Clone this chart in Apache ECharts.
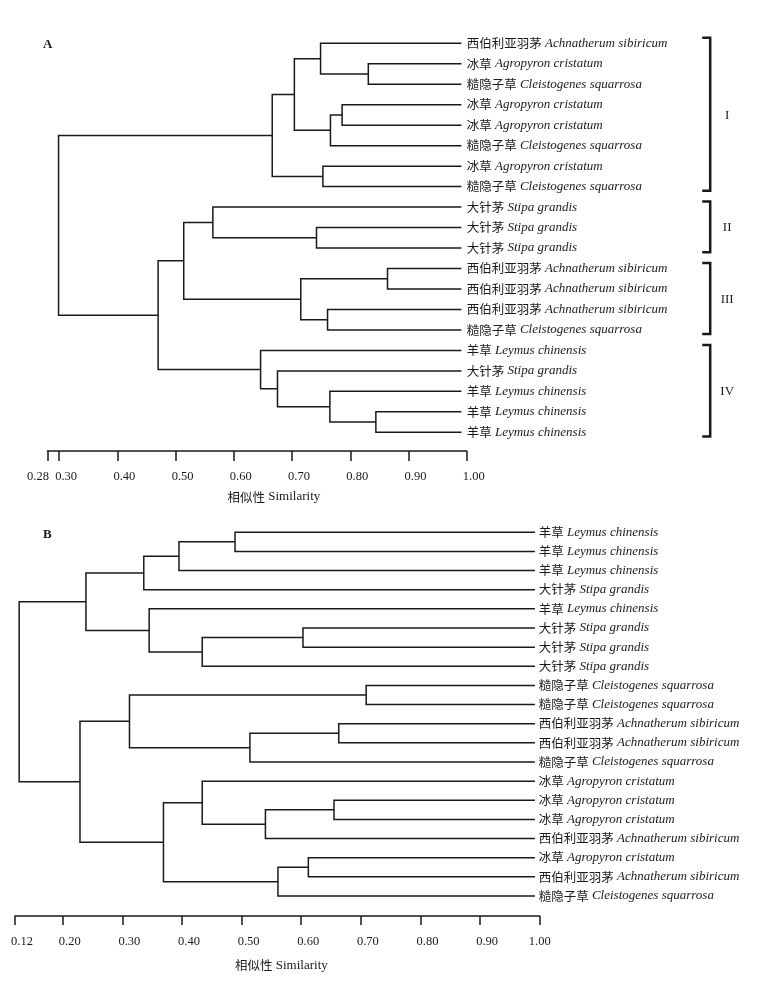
<!DOCTYPE html>
<html><head><meta charset="utf-8">
<script src="https://cdn.jsdelivr.net/npm/echarts@6/dist/echarts.min.js"></script>
<style>html,body{margin:0;padding:0;background:#fff}#chart{width:757px;height:1000px}</style>
</head><body><div id="chart"></div>
<script>
// ---------- Panel A data ----------
const leafCnA = ['西伯利亚羽茅','冰草','糙隐子草','冰草','冰草','糙隐子草','冰草','糙隐子草',
  '大针茅','大针茅','大针茅','西伯利亚羽茅','西伯利亚羽茅','西伯利亚羽茅','糙隐子草',
  '羊草','大针茅','羊草','羊草','羊草'];
const leafLaA = ['Achnatherum sibiricum','Agropyron cristatum','Cleistogenes squarrosa','Agropyron cristatum',
  'Agropyron cristatum','Cleistogenes squarrosa','Agropyron cristatum','Cleistogenes squarrosa',
  'Stipa grandis','Stipa grandis','Stipa grandis','Achnatherum sibiricum','Achnatherum sibiricum',
  'Achnatherum sibiricum','Cleistogenes squarrosa','Leymus chinensis','Stipa grandis',
  'Leymus chinensis','Leymus chinensis','Leymus chinensis'];
// merges: [childA, childB, similarity]; leaves are 0..19, merged nodes numbered from 20
const mergesA = [
  [1,2,0.831],[0,20,0.749],[3,4,0.786],[22,5,0.766],[21,23,0.704],[6,7,0.753],[24,25,0.666],
  [9,10,0.742],[8,27,0.564],[11,12,0.864],[13,14,0.761],[29,30,0.715],[28,31,0.514],
  [18,19,0.844],[17,33,0.765],[16,34,0.675],[15,35,0.646],[32,36,0.470],[26,37,0.299]
];
const leafSimA = 0.991;
const ticksA = [0.28,0.30,0.40,0.50,0.60,0.70,0.80,0.90,1.00];
const groupsA = [[0,7],[8,10],[11,14],[15,19]];
const groupLabelsA = ['I','II','III','IV'];

// ---------- Panel B data ----------
const leafCnB = ['羊草','羊草','羊草','大针茅','羊草','大针茅','大针茅','大针茅','糙隐子草','糙隐子草',
  '西伯利亚羽茅','西伯利亚羽茅','糙隐子草','冰草','冰草','冰草','西伯利亚羽茅','冰草','西伯利亚羽茅','糙隐子草'];
const leafLaB = ['Leymus chinensis','Leymus chinensis','Leymus chinensis','Stipa grandis','Leymus chinensis',
  'Stipa grandis','Stipa grandis','Stipa grandis','Cleistogenes squarrosa','Cleistogenes squarrosa',
  'Achnatherum sibiricum','Achnatherum sibiricum','Cleistogenes squarrosa','Agropyron cristatum',
  'Agropyron cristatum','Agropyron cristatum','Achnatherum sibiricum','Agropyron cristatum',
  'Achnatherum sibiricum','Cleistogenes squarrosa'];
const mergesB = [
  [0,1,0.489],[20,2,0.395],[21,3,0.336],[5,6,0.603],[23,7,0.434],[4,24,0.345],[22,25,0.239],
  [8,9,0.709],[10,11,0.663],[28,12,0.514],[27,29,0.312],[14,15,0.655],[31,16,0.540],[13,32,0.434],
  [17,18,0.612],[34,19,0.561],[33,35,0.369],[30,36,0.229],[26,37,0.127]
];
const leafSimB = 0.992;
const ticksB = [0.12,0.20,0.30,0.40,0.50,0.60,0.70,0.80,0.90,1.00];

const axisTitle = ['相似性', 'Similarity'];

// ---------- build dendrogram segments ----------
function dendro(n, merges, leafSim){
  const xs = [], ys = [], segs = [];
  for (let i=0;i<n;i++){ xs.push(leafSim); ys.push(i); }
  merges.forEach((m,k)=>{
    const a=m[0], b=m[1], s=m[2];
    xs[n+k]=s; ys[n+k]=(ys[a]+ys[b])/2;
    segs.push([xs[a], ys[a], s, xs[b], ys[b]]);
  });
  return segs;
}
const segsA = dendro(leafCnA.length, mergesA, leafSimA);
const segsB = dendro(leafCnB.length, mergesB, leafSimB);

const INK = '#1a1a1a';
const SERIF = '"Liberation Serif","DejaVu Serif",serif';
const CJK = '"Noto Sans CJK SC","Noto Sans",sans-serif';

function treeRender(params, api){
  const p1 = api.coord([api.value(0), api.value(1)]);
  const p2 = api.coord([api.value(2), api.value(1)]);
  const p3 = api.coord([api.value(2), api.value(4)]);
  const p4 = api.coord([api.value(3), api.value(4)]);
  return {type:'polyline', shape:{points:[p1,p2,p3,p4]},
    style:{stroke:INK, lineWidth:1.5, fill:null}};
}
function bracketRender(params, api){
  const s = api.value(0), e = api.value(1);
  const top = api.coord([1.0, s-0.27]);
  const bot = api.coord([1.0, e+0.2]);
  const x = top[0] + 243.5;
  const midY = (top[1]+bot[1])/2;
  return {type:'group', children:[
    {type:'polyline', shape:{points:[[x-8,top[1]],[x,top[1]],[x,bot[1]],[x-8,bot[1]]]},
     style:{stroke:INK, lineWidth:2.5, fill:null}},
    {type:'text', x:x+17, y:midY+1,
     style:{text:groupLabelsA[params.dataIndex], font:'13px '+SERIF, fill:INK,
       align:'center', verticalAlign:'middle'}}
  ]};
}
const rich = {
  c:{fontFamily:CJK, fontSize:12.5, color:INK},
  l:{fontFamily:SERIF, fontStyle:'italic', fontSize:13, color:INK}
};
function leafFmt(cn, la){
  return v => (cn[v]===undefined ? '' : '{c|'+cn[v]+'}{l| '+la[v]+'}');
}
function treeY(idx, cn, la, margin){
  return {gridIndex:idx, type:'value', min:0, max:cn.length-1, interval:1, inverse:true, position:'right',
    axisLine:{show:false}, axisTick:{show:false}, splitLine:{show:false},
    axisLabel:{margin:margin, formatter:leafFmt(cn,la), rich:rich}};
}
// axis with line + ticks only
function scaleX(idx, min, max, ticks, tickLen){
  return {gridIndex:idx, type:'value', min:min, max:max, position:'bottom',
    axisLine:{show:true, onZero:false, lineStyle:{color:INK, width:1.5}},
    axisTick:{show:true, customValues:ticks, length:tickLen, lineStyle:{color:INK, width:1.5}},
    axisLabel:{show:false}, splitLine:{show:false}};
}
// axis with labels only (grid is offset a few px to the right, like the original's labels)
function labelX(idx, min, max, ticks, margin, firstShift, lastShift){
  return {gridIndex:idx, type:'value', min:min, max:max, position:'bottom',
    axisLine:{show:false, onZero:false}, axisTick:{show:false}, splitLine:{show:false},
    axisLabel:{customValues:ticks, showMinLabel:true, showMaxLabel:true, margin:margin,
      formatter:(v)=>{
        const t = v.toFixed(2);
        if (firstShift && Math.abs(v-min)<1e-9) return '{m|'+t+'}';
        if (lastShift && Math.abs(v-max)<1e-9) return '{e|'+t+'}';
        return '{n|'+t+'}';
      },
      rich:{
        n:{fontFamily:SERIF, fontSize:12.5, color:INK},
        m:{fontFamily:SERIF, fontSize:12.5, color:INK, padding:[0,33,0,0]},
        e:{fontFamily:SERIF, fontSize:12.5, color:INK, padding:[0,14,0,0]}
      }}};
}
const titleRich = {
  c:{fontFamily:CJK, fontSize:12.5, fontWeight:'normal', color:INK},
  l:{fontFamily:SERIF, fontSize:13, fontWeight:'normal', color:INK}
};

const GA = {left:47.5, width:419.2};
const GB = {left:15, width:524.7};
const option = {
  animation:false,
  backgroundColor:'#fff',
  title:[
    {text:'A', left:43, top:38, padding:0, textStyle:{fontFamily:SERIF, fontWeight:'bold', fontSize:13, color:INK}},
    {text:'B', left:43, top:528, padding:0, textStyle:{fontFamily:SERIF, fontWeight:'bold', fontSize:13, color:INK}},
    {text:'{c|'+axisTitle[0]+'}{l| '+axisTitle[1]+'}', left:227.5, top:490.5, padding:0,
      textStyle:{fontWeight:'normal', rich:titleRich}},
    {text:'{c|'+axisTitle[0]+'}{l| '+axisTitle[1]+'}', left:235, top:959, padding:0,
      textStyle:{fontWeight:'normal', rich:titleRich}}
  ],
  grid:[
    {left:GA.left, top:43.3, width:GA.width, height:389},
    {left:GA.left, top:450, width:GA.width, height:1},
    {left:GA.left+7, top:450, width:GA.width, height:1},
    {left:GB.left, top:532.3, width:GB.width, height:363.7},
    {left:GB.left, top:915, width:GB.width, height:1},
    {left:GB.left+7, top:915, width:GB.width, height:1}
  ],
  xAxis:[
    {gridIndex:0, type:'value', min:0.28, max:1.0, show:false},
    scaleX(1, 0.28, 1.0, ticksA, 10),
    labelX(2, 0.28, 1.0, ticksA, 19, true, false),
    {gridIndex:3, type:'value', min:0.12, max:1.0, show:false},
    scaleX(4, 0.12, 1.0, ticksB, 9),
    labelX(5, 0.12, 1.0, ticksB, 19, false, true)
  ],
  yAxis:[
    treeY(0, leafCnA, leafLaA, 0),
    {gridIndex:1, type:'value', show:false},
    {gridIndex:2, type:'value', show:false},
    treeY(3, leafCnB, leafLaB, -1),
    {gridIndex:4, type:'value', show:false},
    {gridIndex:5, type:'value', show:false}
  ],
  series:[
    {type:'custom', xAxisIndex:0, yAxisIndex:0, data:segsA, renderItem:treeRender, clip:false, silent:true},
    {type:'custom', xAxisIndex:0, yAxisIndex:0, data:groupsA, renderItem:bracketRender, clip:false, silent:true},
    {type:'custom', xAxisIndex:3, yAxisIndex:3, data:segsB, renderItem:treeRender, clip:false, silent:true}
  ]
};
const chart = echarts.init(document.getElementById('chart'), null, {renderer:'canvas'});
chart.setOption(option);
</script>
</body></html>
